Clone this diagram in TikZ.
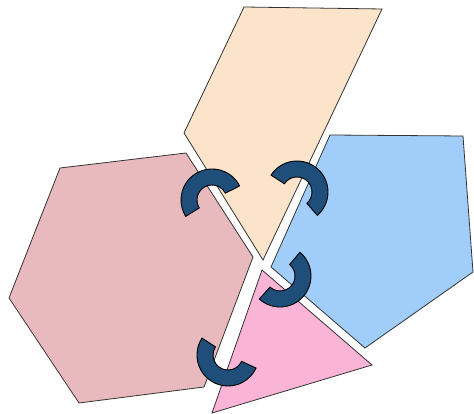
\documentclass[tikz,border=0pt]{standalone}
\usetikzlibrary{calc}
\definecolor{chex}{HTML}{E8B9BD}
\definecolor{cpeach}{HTML}{FCE4CB}
\definecolor{cblue}{HTML}{A0CDFA}
\definecolor{cpink}{HTML}{F9B4D6}
\definecolor{chook}{HTML}{1F4E7A}
\tikzset{
  every picture/.style={line width=0.8pt, line join=miter},
  piece/.style={draw=black!80, fill=#1},
  piece/.default=chex,
  hook/.style={draw=black, fill=chook, line width=0.9pt},
}
\begin{document}
\begin{tikzpicture}[x=1pt, y=1pt]
  \useasboundingbox (0,0) rectangle (474,414);
  % the four pieces
  \draw[piece=chex] (60,246) -- (186,261) -- (253,157) -- (204,27) -- (79,11) -- (9,116) -- cycle;
  \draw[piece=cpeach] (244,407) -- (382,405) -- (263,154) -- (184,281) -- cycle;
  \draw[piece=cblue] (330,279) -- (463,278) -- (473,142) -- (365,66) -- (271,147) -- cycle;
  \draw[piece=cpink] (262,144) -- (372,49) -- (212,1) -- cycle;
  % the hooks that join them
  \foreach \cx/\cy/\a/\b in {212/214/27/212, 297/222/-49/147, 280/138/-132/50, 228/59/147/335}
    \draw[hook] (\cx,\cy) ++(\a:31) arc[start angle=\a, end angle=\b, radius=31]
      -- ++(\b+180:16) arc[start angle=\b, end angle=\a, radius=15] -- cycle;
\end{tikzpicture}
\end{document}
